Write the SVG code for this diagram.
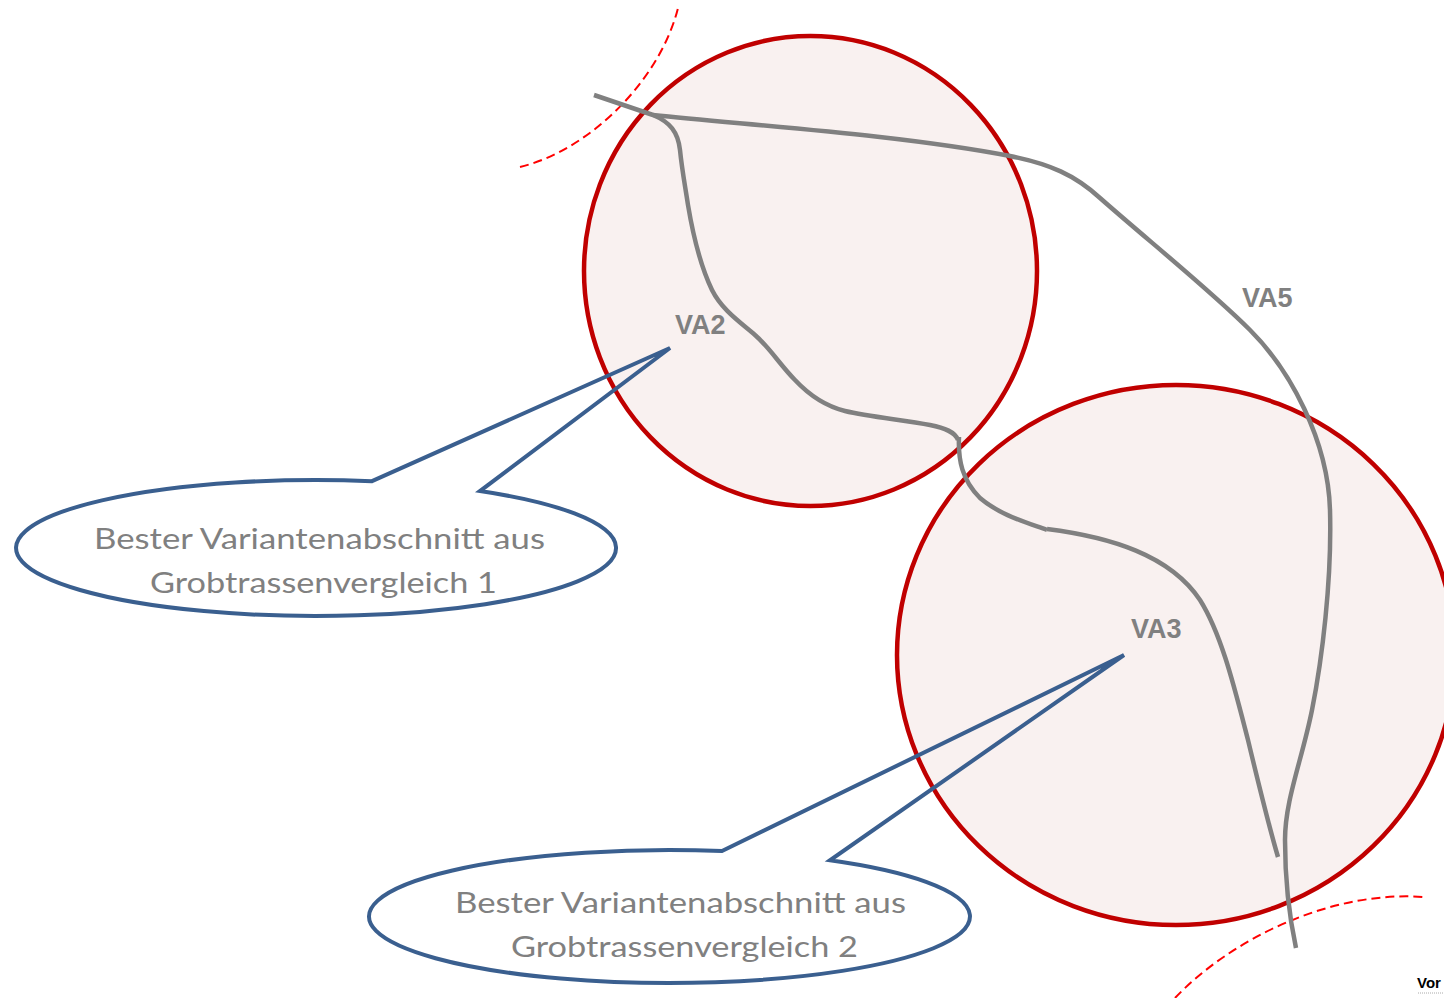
<svg xmlns="http://www.w3.org/2000/svg" width="1444" height="998" viewBox="0 0 1444 998">
  <style>
    .zone { fill: #f9f1f0; stroke: #c00000; stroke-width: 4.5; }
    .dash { fill: none; stroke: #ff0000; stroke-width: 2; stroke-dasharray: 9 5; }
    .route { fill: none; stroke: #808080; stroke-width: 4.5; stroke-linecap: butt; stroke-linejoin: round; }
    .callout { fill: none; stroke: #3a5f8f; stroke-width: 4; stroke-linejoin: miter; }
    .ctext { font-family: Lato, "Open Sans", "Liberation Sans", sans-serif; font-size: 29px; fill: #808080; }
    .va { font-family: "Liberation Sans", Arial, sans-serif; font-size: 27px; font-weight: bold; fill: #808080; }
  </style>
  <rect width="1444" height="998" fill="#ffffff"/>

  <g id="boundaries">
    <path class="dash" d="M520,167 C590,150 660,80 678,8"/>
    <path class="dash" d="M1175,998 C1230,940 1330,890 1424,897"/>
  </g>

  <g id="zone1">
    <ellipse class="zone" cx="810.5" cy="271" rx="226.5" ry="235"/>
  </g>
  <g id="zone2">
    <ellipse class="zone" cx="1176" cy="655" rx="279" ry="270"/>
  </g>

  <g id="connectors">
    <path class="route" d="M594,95 L653,115 C670,122 678,132 680,150 C682,170 685,185 688,205 C693,235 700,265 712,290 C722,310 740,322 755,335 C770,348 780,365 795,380 C810,396 825,406 845,411 C870,417 905,420 930,425 C945,428 955,432 958,440"/>
    <path class="route" d="M959,437 C958,460 962,480 980,498 C1000,515 1025,522 1047,530"/>
    <path class="route" d="M1047,529 C1110,537 1170,555 1200,600 C1222,635 1235,690 1248,740 C1260,790 1270,830 1278,857"/>
    <path class="route" d="M653,115 C760,126 900,135 1010,156 C1050,164 1075,175 1100,198 C1150,242 1210,290 1250,330 C1290,370 1328,440 1330,510 C1332,580 1322,660 1312,710 C1302,760 1285,800 1285,840 C1285,880 1290,920 1296,948"/>
  </g>

  <g id="label-va2"><text class="va" x="675" y="334">VA2</text></g>
  <g id="label-va3"><text class="va" x="1131" y="638">VA3</text></g>
  <g id="label-va5"><text class="va" x="1242" y="307">VA5</text></g>

  <g id="callout1">
    <path class="callout" d="M372,481.2 L670,348 L480,491.06 A300,68 0 1 1 372,481.2 Z"/>
    <text class="ctext" x="94" y="549" textLength="451" lengthAdjust="spacingAndGlyphs">Bester Variantenabschnitt aus</text>
    <text class="ctext" x="150" y="593" textLength="347" lengthAdjust="spacingAndGlyphs">Grobtrassenvergleich 1</text>
  </g>

  <g id="callout2">
    <path class="callout" d="M722,851.02 L1124,655 L830,860.28 A300.5,66.5 0 1 1 722,851.02 Z"/>
    <text class="ctext" x="455" y="913" textLength="451" lengthAdjust="spacingAndGlyphs">Bester Variantenabschnitt aus</text>
    <text class="ctext" x="511" y="957" textLength="347" lengthAdjust="spacingAndGlyphs">Grobtrassenvergleich 2</text>
  </g>

  <g id="corner-text">
    <text x="1417" y="988" font-family="Liberation Sans, Arial, sans-serif" font-size="15" font-weight="bold" fill="#000000">Vor</text>
    <line x1="1418" y1="993" x2="1444" y2="993" stroke="#aaaaaa" stroke-width="1" stroke-dasharray="1 1"/>
  </g>
</svg>
